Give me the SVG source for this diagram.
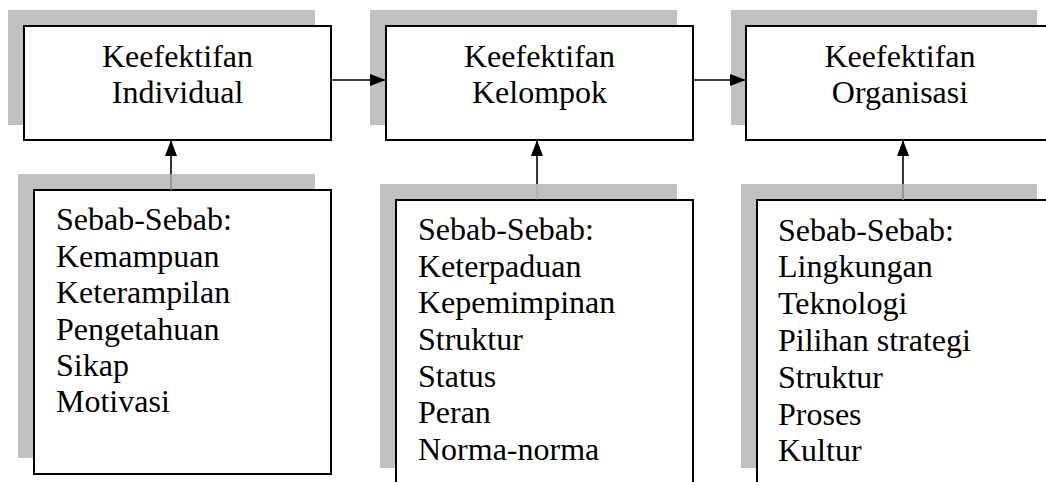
<svg xmlns="http://www.w3.org/2000/svg" width="1046" height="482" viewBox="0 0 1046 482">
  <defs>
    <marker id="arrow" viewBox="0 0 16 12" refX="16" refY="6" markerWidth="16" markerHeight="12" markerUnits="userSpaceOnUse" orient="auto">
      <path d="M0,0 L16,6 L0,12 Z" fill="#000"/>
    </marker>
  </defs>
  <style>
    .shadow { fill: #c0c0c0; }
    .box { fill: #fff; stroke: #000; stroke-width: 2; }
    .label { font-family: "Liberation Serif", "Times New Roman", serif; font-size: 32px; fill: #000; }
    .title { text-anchor: middle; }
    .link { stroke: #000; stroke-width: 1.6; fill: none; }
    .link-faint { stroke: #8a8a8a; stroke-width: 1.6; fill: none; }
  </style>
  <rect width="1046" height="482" fill="#fff"/>

  <!-- outcome boxes -->
  <g id="individual">
    <rect class="shadow" x="8" y="10" width="307" height="115"/>
    <rect class="box" x="24" y="26" width="307" height="114"/>
    <text class="label title" x="177.5" y="67">Keefektifan</text>
    <text class="label title" x="177.5" y="103">Individual</text>
  </g>
  <g id="kelompok">
    <rect class="shadow" x="370" y="10" width="307" height="115"/>
    <rect class="box" x="386" y="26" width="307" height="114"/>
    <text class="label title" x="539.5" y="67">Keefektifan</text>
    <text class="label title" x="539.5" y="103">Kelompok</text>
  </g>
  <g id="organisasi">
    <rect class="shadow" x="731" y="10" width="306" height="115"/>
    <rect class="box" x="746" y="26" width="307" height="114"/>
    <text class="label title" x="900" y="67">Keefektifan</text>
    <text class="label title" x="900" y="103">Organisasi</text>
  </g>

  <!-- cause boxes -->
  <g id="sebab-individual">
    <rect class="shadow" x="18" y="174" width="297" height="284"/>
    <rect class="box" x="34" y="190" width="297" height="284"/>
    <text class="label" x="56" y="230">Sebab-Sebab:</text>
    <text class="label" x="56" y="267">Kemampuan</text>
    <text class="label" x="56" y="303">Keterampilan</text>
    <text class="label" x="56" y="340">Pengetahuan</text>
    <text class="label" x="56" y="376">Sikap</text>
    <text class="label" x="56" y="412">Motivasi</text>
  </g>
  <g id="sebab-kelompok">
    <rect class="shadow" x="380" y="184" width="297" height="284"/>
    <rect class="box" x="396" y="200" width="297" height="300"/>
    <text class="label" x="418" y="240">Sebab-Sebab:</text>
    <text class="label" x="418" y="277">Keterpaduan</text>
    <text class="label" x="418" y="313">Kepemimpinan</text>
    <text class="label" x="418" y="350">Struktur</text>
    <text class="label" x="418" y="387">Status</text>
    <text class="label" x="418" y="423">Peran</text>
    <text class="label" x="418" y="460">Norma-norma</text>
  </g>
  <g id="sebab-organisasi">
    <rect class="shadow" x="741" y="184" width="296" height="284"/>
    <rect class="box" x="757" y="200" width="300" height="300"/>
    <text class="label" x="778" y="241">Sebab-Sebab:</text>
    <text class="label" x="778" y="277">Lingkungan</text>
    <text class="label" x="778" y="314">Teknologi</text>
    <text class="label" x="778" y="351">Pilihan strategi</text>
    <text class="label" x="778" y="388">Struktur</text>
    <text class="label" x="778" y="425">Proses</text>
    <text class="label" x="778" y="461">Kultur</text>
  </g>

  <!-- connectors -->
  <g id="connectors">
    <line class="link" x1="331" y1="80" x2="386" y2="80" marker-end="url(#arrow)"/>
    <line class="link" x1="693" y1="80" x2="746" y2="80" marker-end="url(#arrow)"/>
    <line class="link-faint" x1="171" y1="190" x2="171" y2="174"/>
    <line class="link" x1="171" y1="174" x2="171" y2="140" marker-end="url(#arrow)"/>
    <line class="link-faint" x1="537" y1="200" x2="537" y2="184" stroke-opacity="0.3"/>
    <line class="link" x1="537" y1="184" x2="537" y2="140" marker-end="url(#arrow)"/>
    <line class="link-faint" x1="903" y1="200" x2="903" y2="184"/>
    <line class="link" x1="903" y1="184" x2="903" y2="140" marker-end="url(#arrow)"/>
  </g>
</svg>
